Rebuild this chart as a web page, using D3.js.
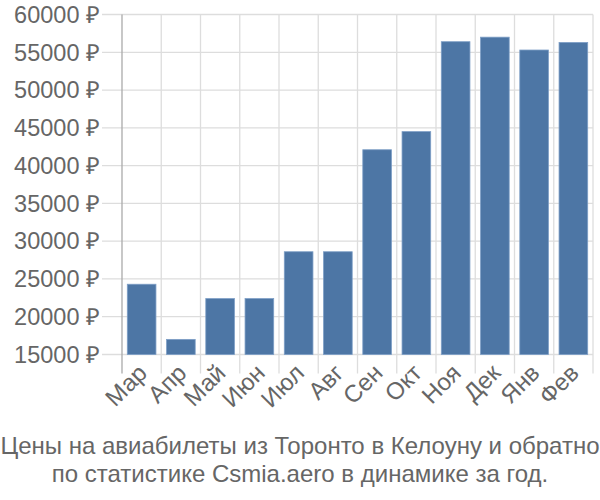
<!DOCTYPE html>
<html><head><meta charset="utf-8">
<script src="https://cdn.jsdelivr.net/npm/d3@7"></script>
<style>body{margin:0;background:#fff;}svg{display:block;font-family:"Liberation Sans",Arial,sans-serif;}</style>
</head><body><svg id="c" width="600" height="500"></svg>
<script>
const months = ["Мар","Апр","Май","Июн","Июл","Авг","Сен","Окт","Ноя","Дек","Янв","Фев"];
const prices = [24300,17000,22400,22400,28600,28600,42100,44500,56400,57000,55300,56300];
const yTicks = [15000,20000,25000,30000,35000,40000,45000,50000,55000,60000];
const titleLines = ["Цены на авиабилеты из Торонто в Келоуну и обратно","по статистике Csmia.aero в динамике за год."];

const svg = d3.select("#c");
const pLeft = 122, pRight = 593, pTop = 14.5, pBottom = 354.5;
const x = d3.scaleBand().domain(months).range([pLeft, pRight]).paddingInner(0.27).paddingOuter(0.135);
const xg = d3.scaleBand().domain(months).range([pLeft, pRight]);
const y = d3.scaleLinear().domain([15000, 60000]).range([pBottom, pTop]);

// horizontal gridlines
svg.append("g").selectAll("line").data(yTicks).join("line")
  .attr("x1", 102).attr("x2", pRight).attr("y1", d => y(d)).attr("y2", d => y(d))
  .attr("stroke", "#dddddd").attr("stroke-width", 1.3);
// vertical gridlines
const vx = months.map(m => xg(m)).slice(1).concat([pRight]);
svg.append("g").selectAll("line").data(vx).join("line")
  .attr("x1", d => d).attr("x2", d => d).attr("y1", pTop).attr("y2", pBottom + 19)
  .attr("stroke", "#dddddd").attr("stroke-width", 1.3);
// left axis line
svg.append("line").attr("x1", pLeft).attr("x2", pLeft).attr("y1", pTop).attr("y2", pBottom + 19)
  .attr("stroke", "#aaaaaa").attr("stroke-width", 1.3);

// y labels
svg.append("g").selectAll("text").data(yTicks).join("text")
  .attr("x", 100).attr("y", d => y(d)).attr("dy", "0.35em").attr("text-anchor", "end")
  .attr("fill", "#666").attr("font-size", 23.5).text(d => d + " ₽");

// bars
svg.append("g").selectAll("rect").data(prices).join("rect")
  .attr("x", (d, i) => x(months[i])).attr("width", x.bandwidth())
  .attr("y", d => y(d)).attr("height", d => y(15000) - y(d))
  .attr("fill", "#4d76a5").attr("stroke", "#7d9ec6").attr("stroke-width", 0.8);

// x labels
svg.append("g").selectAll("text").data(months).join("text")
  .attr("transform", d => `translate(${xg(d) + xg.bandwidth() / 2 + 1},${pBottom + 14}) rotate(-45)`)
  .attr("text-anchor", "end").attr("dy", "0.35em")
  .attr("fill", "#666").attr("font-size", 24).text(d => d);

// title
svg.append("g").selectAll("text").data(titleLines).join("text")
  .attr("x", 300).attr("y", (d, i) => 454 + i * 28).attr("text-anchor", "middle")
  .attr("fill", "#666").attr("font-size", 24).text(d => d);
</script></body></html>
